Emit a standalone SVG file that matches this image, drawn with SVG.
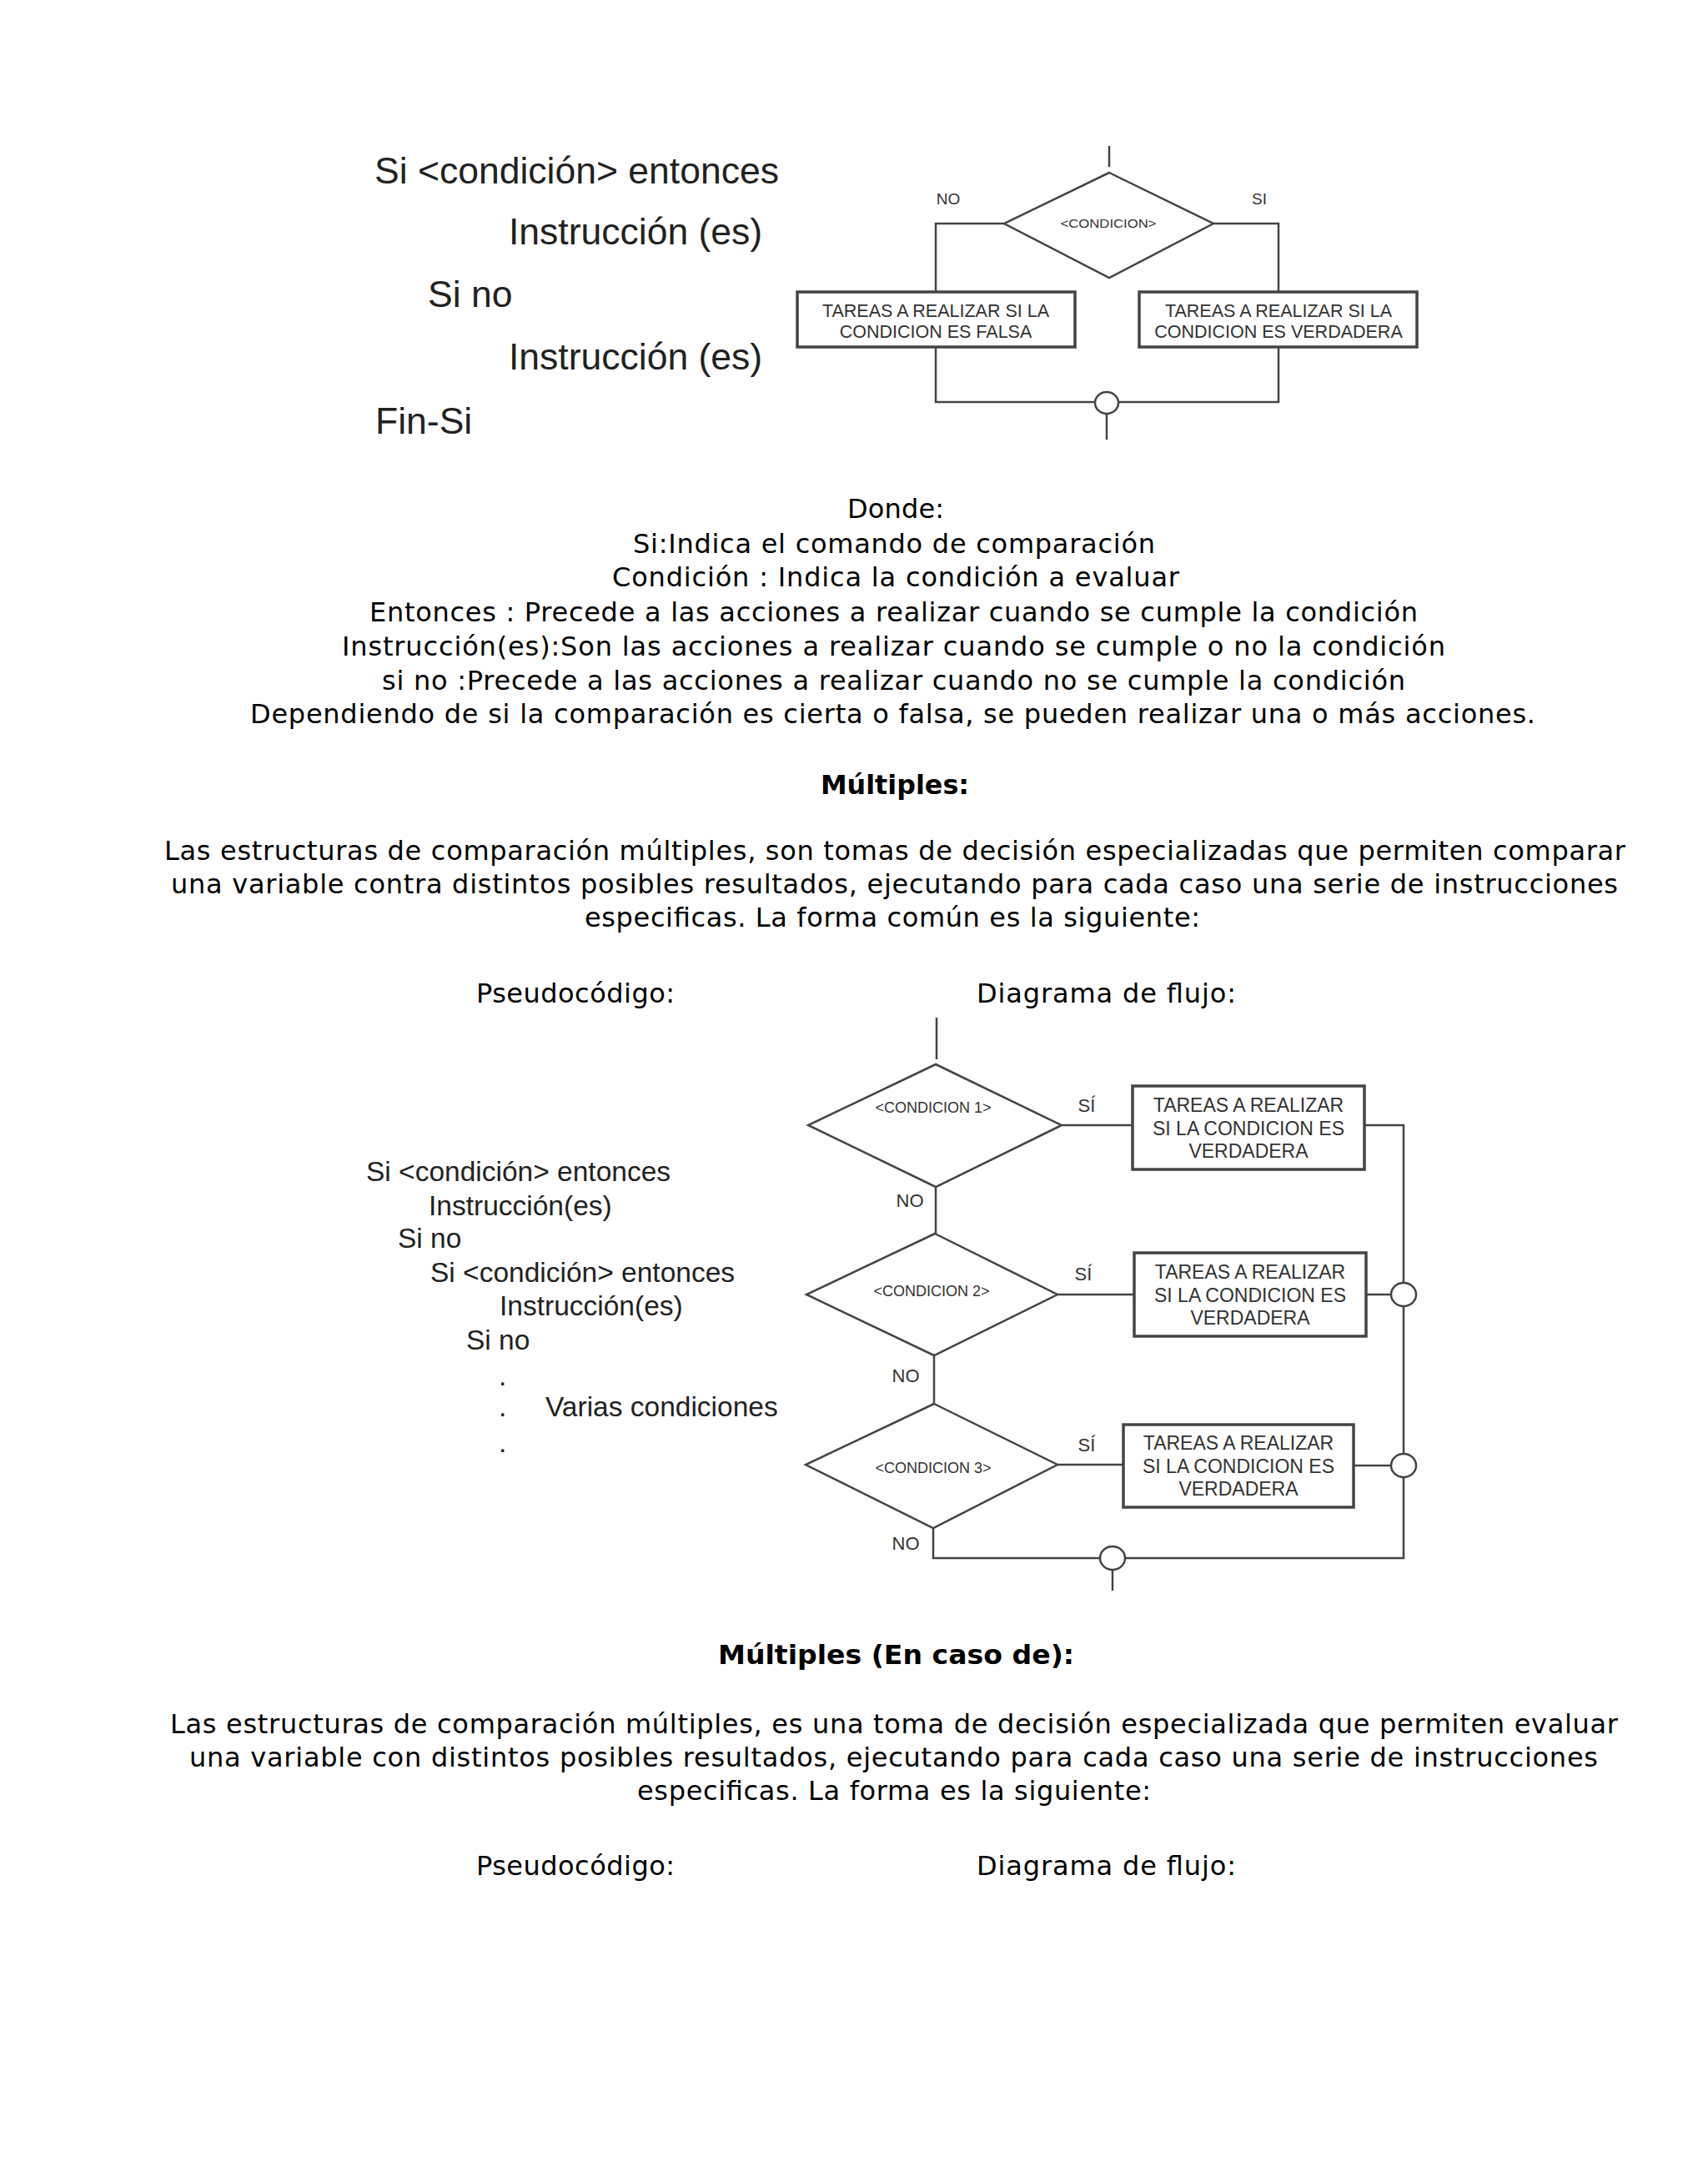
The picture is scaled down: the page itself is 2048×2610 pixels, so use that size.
<svg xmlns="http://www.w3.org/2000/svg" width="2048" height="2610" viewBox="0 0 2048 2610">
<style>
.bg{fill:#fff}
.body{font-family:"DejaVu Sans","Verdana",sans-serif;font-size:32px;fill:#000}
.bold{font-family:"DejaVu Sans","Verdana",sans-serif;font-size:32px;font-weight:bold;fill:#000}
.pc1{font-family:"Liberation Sans",Arial,sans-serif;font-size:44.5px;fill:#222}
.pc2{font-family:"Liberation Sans",Arial,sans-serif;font-size:33.5px;fill:#222}
.fl{font-family:"Liberation Sans",Arial,sans-serif;fill:#333;text-anchor:middle}
.ln{fill:none;stroke:#444;stroke-width:2.5}
.shape{fill:#fff;stroke:#444;stroke-width:2.5}
.box{fill:#fff;stroke:#444;stroke-width:3.5}
</style>
<rect class="bg" x="0" y="0" width="2048" height="2610"/>

<!-- Top pseudocode -->
<g id="pseudo1">
<text class="pc1" x="449" y="220">Si &lt;condición&gt; entonces</text>
<text class="pc1" x="610" y="293">Instrucción (es)</text>
<text class="pc1" x="513" y="368">Si no</text>
<text class="pc1" x="610" y="443">Instrucción (es)</text>
<text class="pc1" x="450" y="520">Fin-Si</text>
</g>

<!-- Top flowchart connectors -->
<g id="connectors1">
<path class="ln" d="M1330 175 V200"/>
<path class="ln" d="M1204 268 H1122 V350"/>
<path class="ln" d="M1455 268 H1533 V350"/>
<path class="ln" d="M1122 416 V482 H1313"/>
<path class="ln" d="M1533 416 V482 H1341"/>
<path class="ln" d="M1327 497 V527"/>
</g>
<g id="cond1">
<polygon class="shape" points="1330,207 1455,268 1330,333 1204,268"/>
<text class="fl" x="1329" y="273" font-size="15" textLength="115" lengthAdjust="spacingAndGlyphs">&lt;CONDICION&gt;</text>
</g>
<g id="lbl-no1"><text class="fl" x="1137" y="245" font-size="19">NO</text></g>
<g id="lbl-si1"><text class="fl" x="1510" y="245" font-size="19">SI</text></g>
<g id="falsa">
<rect class="box" x="956" y="350" width="333" height="66"/>
<text class="fl" x="1122" y="380" font-size="21.5">TAREAS A REALIZAR SI LA</text>
<text class="fl" x="1122" y="405" font-size="21.5">CONDICION ES FALSA</text>
</g>
<g id="verdadera">
<rect class="box" x="1366" y="350" width="333" height="66"/>
<text class="fl" x="1533" y="380" font-size="21.5">TAREAS A REALIZAR SI LA</text>
<text class="fl" x="1533" y="405" font-size="21.5">CONDICION ES VERDADERA</text>
</g>
<g id="join1"><ellipse class="shape" cx="1327" cy="483" rx="14" ry="13"/></g>

<!-- Explanation text -->
<g id="donde">
<text class="body" x="1016" y="621" textLength="116" lengthAdjust="spacing">Donde:</text>
<text class="body" x="759" y="663" textLength="626" lengthAdjust="spacing">Si:Indica el comando de comparación</text>
<text class="body" x="734" y="703" textLength="680" lengthAdjust="spacing">Condición : Indica la condición a evaluar</text>
<text class="body" x="443" y="745" textLength="1257" lengthAdjust="spacing">Entonces : Precede a las acciones a realizar cuando se cumple la condición</text>
<text class="body" x="410" y="786" textLength="1323" lengthAdjust="spacing">Instrucción(es):Son las acciones a realizar cuando se cumple o no la condición</text>
<text class="body" x="458" y="827" textLength="1227" lengthAdjust="spacing">si no :Precede a las acciones a realizar cuando no se cumple la condición</text>
<text class="body" x="300" y="867" textLength="1541" lengthAdjust="spacing">Dependiendo de si la comparación es cierta o falsa, se pueden realizar una o más acciones.</text>
</g>

<g id="multiples">
<text class="bold" x="984" y="952" textLength="178" lengthAdjust="spacingAndGlyphs">Múltiples:</text>
<text class="body" x="197" y="1031" textLength="1752" lengthAdjust="spacing">Las estructuras de comparación múltiples, son tomas de decisión especializadas que permiten comparar</text>
<text class="body" x="205" y="1071" textLength="1735" lengthAdjust="spacing">una variable contra distintos posibles resultados, ejecutando para cada caso una serie de instrucciones</text>
<text class="body" x="701" y="1111" textLength="738" lengthAdjust="spacing">especificas. La forma común es la siguiente:</text>
<text class="body" x="571" y="1202" textLength="238" lengthAdjust="spacing">Pseudocódigo:</text>
<text class="body" x="1171" y="1202" textLength="311" lengthAdjust="spacing">Diagrama  de flujo:</text>
</g>

<!-- Second pseudocode -->
<g id="pseudo2">
<text class="pc2" x="439" y="1416">Si &lt;condición&gt; entonces</text>
<text class="pc2" x="514" y="1457">Instrucción(es)</text>
<text class="pc2" x="477" y="1496">Si no</text>
<text class="pc2" x="516" y="1537">Si &lt;condición&gt; entonces</text>
<text class="pc2" x="599" y="1577">Instrucción(es)</text>
<text class="pc2" x="559" y="1618">Si no</text>
<text class="pc2" x="598" y="1661">.</text>
<text class="pc2" x="598" y="1698">.</text>
<text class="pc2" x="654" y="1698">Varias condiciones</text>
<text class="pc2" x="598" y="1741">.</text>
</g>

<!-- Second flowchart connectors -->
<g id="connectors2">
<path class="ln" d="M1123 1220 V1270"/>
<path class="ln" d="M1273 1349 H1358"/>
<path class="ln" d="M1636 1349 H1683 V1538"/>
<path class="ln" d="M1122 1423 V1479"/>
<path class="ln" d="M1268 1552 H1360"/>
<path class="ln" d="M1638 1552 H1668"/>
<path class="ln" d="M1683 1566 V1743"/>
<path class="ln" d="M1120 1625 V1683"/>
<path class="ln" d="M1268 1756 H1347"/>
<path class="ln" d="M1623 1757 H1668"/>
<path class="ln" d="M1683 1771 V1868 H1349"/>
<path class="ln" d="M1119 1832 V1868 H1319"/>
<path class="ln" d="M1334 1882 V1907"/>
</g>

<g id="c1">
<polygon class="shape" points="1122,1276 1273,1349 1122,1423 969,1349"/>
<text class="fl" x="1119" y="1334" font-size="18">&lt;CONDICION 1&gt;</text>
</g>
<g id="c2">
<polygon class="shape" points="1121,1479 1268,1552 1120,1625 967,1552"/>
<text class="fl" x="1117" y="1554" font-size="18">&lt;CONDICION 2&gt;</text>
</g>
<g id="c3">
<polygon class="shape" points="1120,1683 1268,1756 1119,1832 966,1756"/>
<text class="fl" x="1119" y="1766" font-size="18">&lt;CONDICION 3&gt;</text>
</g>

<g id="labels2">
<text class="fl" x="1303" y="1333" font-size="22">SÍ</text>
<text class="fl" x="1091" y="1447" font-size="22">NO</text>
<text class="fl" x="1299" y="1535" font-size="22">SÍ</text>
<text class="fl" x="1086" y="1657" font-size="22">NO</text>
<text class="fl" x="1303" y="1740" font-size="22">SÍ</text>
<text class="fl" x="1086" y="1858" font-size="22">NO</text>
</g>

<g id="t1">
<rect class="box" x="1358" y="1302" width="278" height="100"/>
<text class="fl" x="1497" y="1333" font-size="23">TAREAS A REALIZAR</text>
<text class="fl" x="1497" y="1361" font-size="23">SI LA CONDICION ES</text>
<text class="fl" x="1497" y="1388" font-size="23">VERDADERA</text>
</g>
<g id="t2">
<rect class="box" x="1360" y="1502" width="278" height="100"/>
<text class="fl" x="1499" y="1533" font-size="23">TAREAS A REALIZAR</text>
<text class="fl" x="1499" y="1561" font-size="23">SI LA CONDICION ES</text>
<text class="fl" x="1499" y="1588" font-size="23">VERDADERA</text>
</g>
<g id="t3">
<rect class="box" x="1347" y="1708" width="276" height="99"/>
<text class="fl" x="1485" y="1738" font-size="23">TAREAS A REALIZAR</text>
<text class="fl" x="1485" y="1766" font-size="23">SI LA CONDICION ES</text>
<text class="fl" x="1485" y="1793" font-size="23">VERDADERA</text>
</g>

<g id="j2"><ellipse class="shape" cx="1683" cy="1552" rx="15" ry="14"/></g>
<g id="j3"><ellipse class="shape" cx="1683" cy="1757" rx="15" ry="14"/></g>
<g id="j4"><ellipse class="shape" cx="1334" cy="1868" rx="15" ry="14"/></g>

<g id="encaso">
<text class="bold" x="861" y="1995" textLength="427" lengthAdjust="spacingAndGlyphs">Múltiples  (En caso de):</text>
<text class="body" x="204" y="2078" textLength="1736" lengthAdjust="spacing">Las estructuras de comparación múltiples, es una toma de decisión especializada que permiten evaluar</text>
<text class="body" x="227" y="2118" textLength="1689" lengthAdjust="spacing">una variable con distintos posibles resultados, ejecutando para cada caso una serie de instrucciones</text>
<text class="body" x="764" y="2158" textLength="616" lengthAdjust="spacing">especificas. La forma es la siguiente:</text>
<text class="body" x="571" y="2248" textLength="238" lengthAdjust="spacing">Pseudocódigo:</text>
<text class="body" x="1171" y="2248" textLength="311" lengthAdjust="spacing">Diagrama  de flujo:</text>
</g>
</svg>
